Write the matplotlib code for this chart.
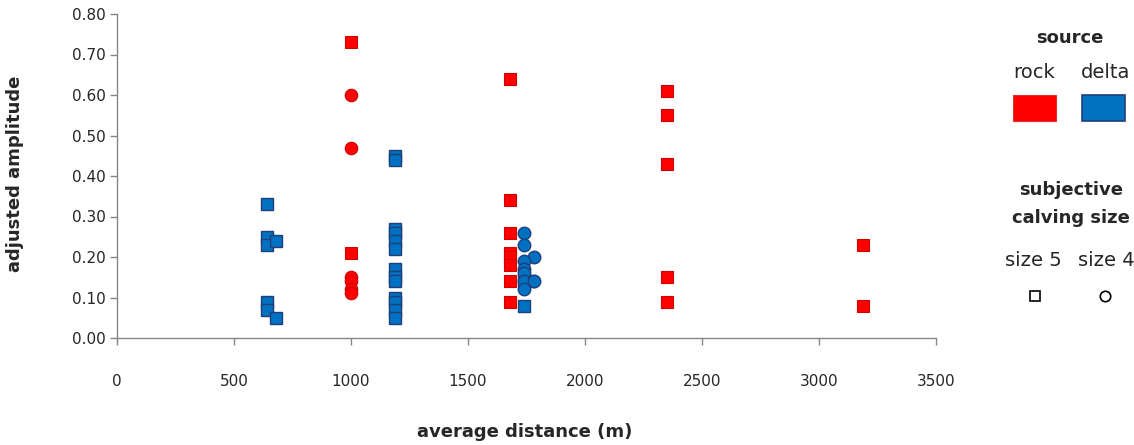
import matplotlib
matplotlib.use('Agg')
import matplotlib.pyplot as plt
from matplotlib.patches import Rectangle
from matplotlib.lines import Line2D

# rock source, size 5 (squares)
rock5_dist = [1000, 1000, 1680, 1680, 1680, 1680, 1680, 1680, 1680, 1680,
              2350, 2350, 2350, 2350, 2350, 3190, 3190]
rock5_amp = [0.73, 0.21, 0.64, 0.34, 0.26, 0.21, 0.20, 0.18, 0.14, 0.09,
             0.61, 0.55, 0.43, 0.15, 0.09, 0.23, 0.08]
# rock source, size 4 (circles)
rock4_dist = [1000, 1000, 1000, 1000, 1000, 1000]
rock4_amp = [0.60, 0.47, 0.15, 0.14, 0.12, 0.11]
# delta source, size 5 (squares)
delta5_dist = [640, 640, 640, 680, 640, 640, 680,
               1190, 1190, 1190, 1190, 1190, 1190, 1190, 1190, 1190,
               1190, 1190, 1190, 1190,
               1740, 1765, 1740]
delta5_amp = [0.33, 0.25, 0.23, 0.24, 0.09, 0.07, 0.05,
              0.45, 0.44, 0.27, 0.26, 0.24, 0.22, 0.17, 0.15, 0.14,
              0.10, 0.09, 0.07, 0.05,
              0.14, 0.14, 0.08]
# delta source, size 4 (circles)
delta4_dist = [1740, 1740, 1780, 1740, 1740, 1740, 1740, 1780, 1740]
delta4_amp = [0.26, 0.23, 0.20, 0.19, 0.17, 0.16, 0.14, 0.14, 0.12]

x_ticks = [0, 500, 1000, 1500, 2000, 2500, 3000, 3500]
y_ticks = [0.0, 0.1, 0.2, 0.3, 0.4, 0.5, 0.6, 0.7, 0.8]

RED, RED_EDGE = '#FF0000', '#D00000'
BLUE, BLUE_EDGE = '#0070C0', '#1F3F7A'
GRID = '#868686'
TXT = '#262626'
FS_TICK, FS_BOLD, FS_LEG = 11, 13, 14

plt.rcParams['font.family'] = ['DejaVu Sans']

fig = plt.figure(figsize=(11.34, 4.45), dpi=100)
W, H = 1134, 445
ax = fig.add_axes([117 / W, 1 - 338 / H, (936 - 117) / W, (338 - 14) / H])

ms = 8.5
ax.plot(rock5_dist, rock5_amp, 's', ms=ms, mfc=RED, mec=RED_EDGE, mew=0.8, ls='none', clip_on=False)
ax.plot(rock4_dist, rock4_amp, 'o', ms=ms + 0.5, mfc=RED, mec=RED_EDGE, mew=0.8, ls='none', clip_on=False)
ax.plot(delta5_dist, delta5_amp, 's', ms=ms, mfc=BLUE, mec=BLUE_EDGE, mew=1.0, ls='none', clip_on=False)
ax.plot(delta4_dist, delta4_amp, 'o', ms=ms + 0.5, mfc=BLUE, mec=BLUE_EDGE, mew=1.0, ls='none', clip_on=False)

ax.set_xlim(0, 3500)
ax.set_ylim(0, 0.8)
ax.set_xticks(x_ticks)
ax.set_yticks(y_ticks)
ax.set_xticklabels([str(v) for v in x_ticks])
ax.set_yticklabels([f'{v:.2f}' for v in y_ticks])
for s in ('top', 'right'):
    ax.spines[s].set_visible(False)
for s in ('left', 'bottom'):
    ax.spines[s].set_color(GRID)
    ax.spines[s].set_linewidth(1)
ax.tick_params(axis='x', direction='out', length=5, width=1, color=GRID,
               pad=21, labelsize=FS_TICK, labelcolor=TXT)
ax.tick_params(axis='y', direction='out', length=5, width=1, color=GRID,
               pad=3, labelsize=FS_TICK, labelcolor=TXT)

fig.text(525 / W, 1 - 432 / H, 'average distance (m)', ha='center', va='center',
         fontsize=FS_BOLD, fontweight='bold', color=TXT)
fig.text(15 / W, 1 - 174 / H, 'adjusted amplitude', ha='center', va='center',
         rotation=90, fontsize=FS_BOLD, fontweight='bold', color=TXT)

# legend drawn on an overlay in pixel units
lax = fig.add_axes([0, 0, 1, 1], zorder=5)
lax.set_xlim(0, W)
lax.set_ylim(H, 0)
lax.axis('off')
lax.text(1070, 38, 'source', ha='center', va='center', fontsize=FS_BOLD, fontweight='bold', color=TXT)
lax.text(1034, 72, 'rock', ha='center', va='center', fontsize=FS_LEG, color=TXT)
lax.text(1106, 72, 'delta', ha='center', va='center', fontsize=FS_LEG, color=TXT)
lax.add_patch(Rectangle((1013, 95), 43, 26, fc=RED, ec='#E03030', lw=0.8))
lax.add_patch(Rectangle((1082, 95), 43, 26, fc=BLUE, ec=BLUE_EDGE, lw=1.2))
lax.text(1071, 190, 'subjective', ha='center', va='center', fontsize=FS_BOLD, fontweight='bold', color=TXT)
lax.text(1071, 218, 'calving size', ha='center', va='center', fontsize=FS_BOLD, fontweight='bold', color=TXT)
lax.text(1033, 260, 'size 5', ha='center', va='center', fontsize=FS_LEG, color=TXT)
lax.text(1106, 260, 'size 4', ha='center', va='center', fontsize=FS_LEG, color=TXT)
lax.add_line(Line2D([1035], [296], marker='s', ms=6.5, mfc='white', mec='black', mew=1.2))
lax.add_line(Line2D([1105], [296], marker='o', ms=7.5, mfc='white', mec='black', mew=1.2))

fig.savefig('out.png', dpi=100)
